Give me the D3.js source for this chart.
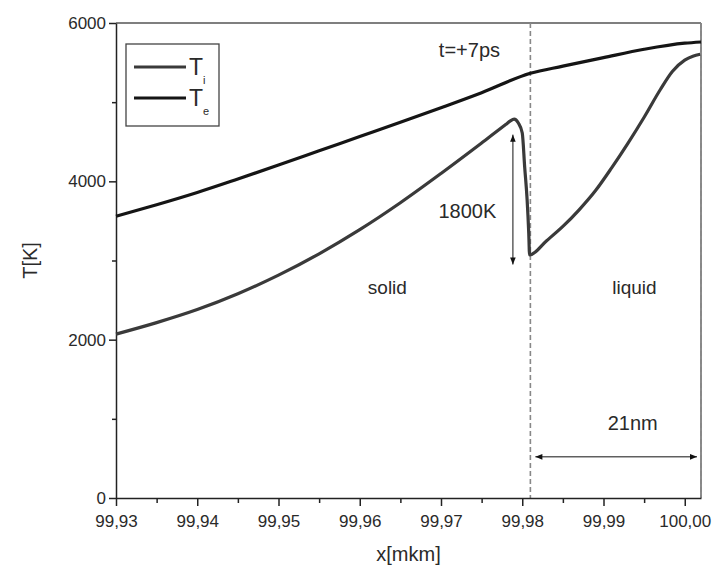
<!DOCTYPE html>
<html>
<head>
<meta charset="utf-8">
<script src="https://cdn.jsdelivr.net/npm/d3@7"></script>
<style>
  body { margin: 0; background: #fff; }
  text { font-family: "Liberation Sans", Arial, sans-serif; fill: #2a2a2a; }
</style>
</head>
<body>
<svg width="713" height="570"></svg>
<script>
// data
var xTicks = [99.93, 99.94, 99.95, 99.96, 99.97, 99.98, 99.99, 100.00];
var yTicks = [0, 2000, 4000, 6000];

var teX = [99.930, 99.935, 99.940, 99.945, 99.950, 99.955, 99.960, 99.965, 99.970, 99.975, 99.981,
           99.985, 99.990, 99.995, 100.000, 100.002];
var teT = [3560, 3705, 3860, 4030, 4205, 4385, 4565, 4745, 4930, 5120, 5365,
           5455, 5563, 5668, 5745, 5760];

var tiX = [99.930, 99.935, 99.940, 99.945, 99.950, 99.955, 99.960, 99.965, 99.970, 99.975, 99.978,
           99.9785, 99.9790, 99.9795, 99.9800, 99.9803, 99.9806, 99.9808, 99.9809,
           99.9830, 99.9850, 99.9870, 99.9890, 99.9910, 99.9930, 99.9950, 99.9970, 99.9985, 100.0000, 100.0010, 100.0019];
var tiT = [2070, 2215, 2380, 2580, 2815, 3085, 3390, 3730, 4100, 4485, 4720,
           4760, 4785, 4740, 4610, 4180, 3765, 3345, 3070,
           3250, 3430, 3640, 3880, 4170, 4480, 4810, 5160, 5390, 5530, 5580, 5605];

var meltX = 99.981, edgeX = 100.002;

var svg = d3.select("svg"),
    margin = {top: 23, right: 12, bottom: 72, left: 116},
    W = +svg.attr("width") - margin.left - margin.right,
    H = +svg.attr("height") - margin.top - margin.bottom;

var x = d3.scaleLinear().domain([99.93, edgeX]).range([0, W]);
var y = d3.scaleLinear().domain([0, 6000]).range([H, 0]);

var g = svg.append("g").attr("transform", "translate(" + margin.left + "," + margin.top + ")");

svg.append("defs").append("marker")
    .attr("id", "ah")
    .attr("viewBox", "0 -5 10 10")
    .attr("refX", 10).attr("refY", 0)
    .attr("orient", "auto-start-reverse")
    .attr("markerUnits", "userSpaceOnUse")
    .attr("markerWidth", 9).attr("markerHeight", 7)
    .append("path").attr("d", "M0,-4L10,0L0,4Z").attr("fill", "#111");

// frame top / right
g.append("line").attr("x1", 0).attr("x2", W).attr("y1", 0).attr("y2", 0)
    .attr("stroke", "#555").attr("stroke-width", 1.5);
g.append("line").attr("x1", W).attr("x2", W).attr("y1", 0).attr("y2", H)
    .attr("stroke", "#666").attr("stroke-width", 1.5);

// dashed lines
[meltX, edgeX].forEach(function (v) {
    g.append("line").attr("x1", x(v)).attr("x2", x(v)).attr("y1", 0).attr("y2", H)
        .attr("stroke", "#888").attr("stroke-width", 1.6).attr("stroke-dasharray", "5,3");
});

// axes
var fmt = function (d) { return d3.format(".2f")(d).replace(".", ","); };
var xAxis = g.append("g").attr("transform", "translate(0," + H + ")")
    .call(d3.axisBottom(x).tickValues(xTicks).tickFormat(fmt).tickSize(8).tickSizeOuter(0));
g.append("g").attr("transform", "translate(0," + H + ")")
    .call(d3.axisBottom(x).tickValues(xTicks.map(function (d) { return d + 0.005; })).tickFormat("").tickSize(5).tickSizeOuter(0))
    .select(".domain").remove();
var yAxis = g.append("g")
    .call(d3.axisLeft(y).tickValues(yTicks).tickFormat(d3.format("d")).tickSize(7).tickSizeOuter(0));
g.append("g")
    .call(d3.axisLeft(y).tickValues([1000, 3000, 5000]).tickFormat("").tickSize(4).tickSizeOuter(0))
    .select(".domain").remove();

svg.selectAll(".domain").attr("stroke", "#222").attr("stroke-width", 1.5);
svg.selectAll(".tick line").attr("stroke", "#222").attr("stroke-width", 1.5);
xAxis.selectAll("text").attr("font-size", 17).attr("dy", "1.05em")
    .style("font-family", "Liberation Sans, Arial, sans-serif").attr("fill", "#333");
yAxis.selectAll("text").attr("font-size", 17).attr("x", -10)
    .style("font-family", "Liberation Sans, Arial, sans-serif").attr("fill", "#333");

// curves
var line = d3.line().curve(d3.curveMonotoneX)
    .x(function (d) { return x(d[0]); })
    .y(function (d) { return y(d[1]); });

g.append("path").datum(d3.zip(teX, teT)).attr("d", line)
    .attr("fill", "none").attr("stroke", "#151515").attr("stroke-width", 3.2);
g.append("path").datum(d3.zip(tiX, tiT)).attr("d", line)
    .attr("fill", "none").attr("stroke", "#3a3a3a").attr("stroke-width", 3.2);

// annotations
g.append("line").attr("x1", x(99.97885)).attr("x2", x(99.97885))
    .attr("y1", y(4590)).attr("y2", y(2950))
    .attr("stroke", "#111").attr("stroke-width", 1)
    .attr("marker-start", "url(#ah)").attr("marker-end", "url(#ah)");
g.append("line").attr("x1", x(meltX) + 5).attr("x2", x(edgeX) - 4)
    .attr("y1", y(520)).attr("y2", y(520))
    .attr("stroke", "#111").attr("stroke-width", 1)
    .attr("marker-start", "url(#ah)").attr("marker-end", "url(#ah)");

function label(txt, xv, yv, size) {
    g.append("text").attr("x", x(xv)).attr("y", y(yv)).attr("text-anchor", "middle")
        .attr("dy", "0.35em").attr("font-size", size).text(txt);
}
label("1800K", 99.97325, 3620, 20);
label("t=+7ps", 99.9735, 5660, 20);
label("solid", 99.9634, 2660, 19);
label("liquid", 99.9938, 2660, 19);
label("21nm", 99.9936, 950, 20);

// axis titles
svg.append("text").attr("x", margin.left + W / 2).attr("y", 561).attr("text-anchor", "middle")
    .attr("font-size", 20).text("x[mkm]");
svg.append("text").attr("transform", "translate(37," + (margin.top + H / 2) + ") rotate(-90)")
    .attr("text-anchor", "middle").attr("font-size", 20).text("T[K]");

// legend
var lg = svg.append("g").attr("transform", "translate(126,44)");
lg.append("rect").attr("width", 93).attr("height", 82).attr("fill", "#fff")
    .attr("stroke", "#444").attr("stroke-width", 1.3);
var names = ["i", "e"], cols = ["#3a3a3a", "#151515"];
names.forEach(function (n, i) {
    var yy = 23 + i * 31;
    lg.append("line").attr("x1", 8).attr("x2", 60).attr("y1", yy).attr("y2", yy)
        .attr("stroke", cols[i]).attr("stroke-width", 3.2);
    var t = lg.append("text").attr("x", 63).attr("y", yy + 8).attr("font-size", 23).text("T");
    t.append("tspan").attr("font-size", 11).attr("dy", 9).text(n);
});
</script>
</body>
</html>
